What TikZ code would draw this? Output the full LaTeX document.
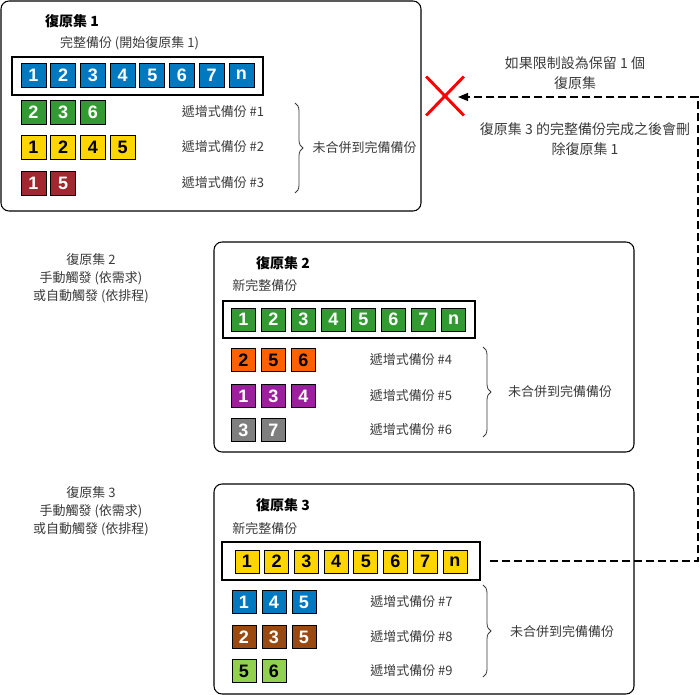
\documentclass[tikz,border=0pt]{standalone}
\usepackage{fontspec}
\setmainfont{Noto Sans CJK TC}
\newfontfamily\numfont{Liberation Sans}
\usetikzlibrary{positioning,calc,arrows.meta,shapes.misc,decorations.pathreplacing}

\definecolor{txtgray}{HTML}{3A3A3A}
\definecolor{blueset}{HTML}{0079C1}
\definecolor{greenset}{HTML}{339A33}
\definecolor{yellowset}{HTML}{FFD500}
\definecolor{redset}{HTML}{A1282E}
\definecolor{orangeset}{HTML}{FF6000}
\definecolor{purpleset}{HTML}{9E1F9E}
\definecolor{grayset}{HTML}{7F7F7F}
\definecolor{brownset}{HTML}{9A4A10}
\definecolor{limeset}{HTML}{92D050}

\tikzset{
	setbox/.style = {draw, rounded corners = 6pt, line width = 0.8pt, minimum width = 315pt, minimum height = 157.5pt},
	fullframe/.style = {draw, line width = 1pt, inner sep = 0pt},
	blk/.style = {draw, line width = 0.6pt, minimum width = 17.5pt, minimum height = 17.25pt, inner sep = 0pt,
		font = \numfont\bfseries\fontsize{13.5pt}{13.5pt}\selectfont},
	wblk/.style = {blk, text = white},
	lbl/.style = {text = txtgray, inner sep = 0pt, align = center, font = \fontsize{9.75pt}{13.5pt}\selectfont},
	ttl/.style = {inner sep = 0pt, font = \bfseries\fontsize{10.5pt}{12pt}\selectfont},
	link/.style = {dashed, dash pattern = on 6pt off 3pt, line width = 0.9pt},
	untie/.style = {decorate, decoration = {brace, amplitude = 6pt}, line width = 0.6pt, draw = txtgray},
}

\begin{document}
\begin{tikzpicture}[x = 0.75pt, y = -0.75pt]
	\useasboundingbox (0,0) rectangle (700,695);
	
	% restore set 1
	\begin{scope}[shift = {(1,1)}]
		\node[setbox] (set1) at (210,105) {};
		\node[ttl] (t1) at (71,20) {復原集 1};
		\node[lbl] (sub1) at (128.5,42) {完整備份 (開始復原集 1)};
		\node[fullframe, minimum width = 188.25pt, minimum height = 28.5pt] (full1) at (136.5,75) {};
		\foreach \n [count = \i from 0] in {1,2,3,4,5,6,7,n}
			\node[wblk, fill = blueset, minimum width = 18.75pt, minimum height = 18pt] (f1\n) at (32.5+29.7*\i,74) {\n};
		\foreach \n [count = \i from 0] in {2,3,6}
			\node[wblk, fill = greenset, minimum width = 18.75pt, minimum height = 18pt] (a1\n) at (32.5+29.7*\i,111) {\n};
		\foreach \n [count = \i from 0] in {1,2,4,5}
			\node[blk, fill = yellowset, minimum width = 18.75pt, minimum height = 18pt] (b1\n) at (32.5+29.7*\i,146) {\n};
		\foreach \n [count = \i from 0] in {1,5}
			\node[wblk, fill = redset, minimum width = 18.75pt, minimum height = 18pt] (c1\n) at (32.5+29.7*\i,182) {\n};
		\node[lbl] (inc1) at (222,111) {遞增式備份 \#1};
		\node[lbl] (inc2) at (222,146) {遞增式備份 \#2};
		\node[lbl] (inc3) at (222,182) {遞增式備份 \#3};
		\draw[untie] (294,102) -- (294,192);
		\node[lbl] (keep1) at (363.5,147) {未合併到完備備份};
	\end{scope}
	
	% restore set 2
	\node[lbl] (why2) at (91,278) {復原集 2\\手動觸發 (依需求)\\或自動觸發 (依排程)};
	\begin{scope}[shift = {(214,242)}]
		\node[setbox] (set2) at (210,105) {};
		\node[ttl] (t2) at (69,21) {復原集 2};
		\node[lbl, anchor = west] (sub2) at (18,44) {新完整備份};
		\node[fullframe, minimum width = 189pt, minimum height = 27.75pt] (full2) at (135,77.5) {};
		\foreach \n [count = \i from 0] in {1,2,3,4,5,6,7,n}
			\node[wblk, fill = greenset] (f2\n) at (29.5+30*\i,77.5) {\n};
		\foreach \n [count = \i from 0] in {2,5,6}
			\node[blk, fill = orangeset] (a2\n) at (29.5+30*\i,118) {\n};
		\foreach \n [count = \i from 0] in {1,3,4}
			\node[wblk, fill = purpleset] (b2\n) at (29.5+30*\i,154) {\n};
		\foreach \n [count = \i from 0] in {3,7}
			\node[wblk, fill = grayset] (c2\n) at (29.5+30*\i,188) {\n};
		\node[lbl] (inc4) at (197,118) {遞增式備份 \#4};
		\node[lbl] (inc5) at (197,154) {遞增式備份 \#5};
		\node[lbl] (inc6) at (197,188) {遞增式備份 \#6};
		\draw[untie] (269,105) -- (269,195);
		\node[lbl] (keep2) at (346,150) {未合併到完備備份};
	\end{scope}
	
	% restore set 3
	\node[lbl] (why3) at (91,511) {復原集 3\\手動觸發 (依需求)\\或自動觸發 (依排程)};
	\begin{scope}[shift = {(214,484)}]
		\node[setbox] (set3) at (210,105) {};
		\node[ttl] (t3) at (69,21) {復原集 3};
		\node[lbl, anchor = west] (sub3) at (18,45) {新完整備份};
		\node[fullframe, minimum width = 193.5pt, minimum height = 28.5pt] (full3) at (137,77) {};
		\foreach \n [count = \i from 0] in {1,2,3,4,5,6,7,n}
			\node[blk, fill = yellowset, minimum width = 18pt] (f3\n) at (33+29.7*\i,77.5) {\n};
		\foreach \n [count = \i from 0] in {1,4,5}
			\node[wblk, fill = blueset, minimum width = 18pt] (a3\n) at (30+30*\i,118) {\n};
		\foreach \n [count = \i from 0] in {2,3,5}
			\node[wblk, fill = brownset, minimum width = 18pt] (b3\n) at (30+30*\i,153) {\n};
		\foreach \n [count = \i from 0] in {5,6}
			\node[blk, fill = limeset, minimum width = 18pt] (c3\n) at (30+30*\i,187) {\n};
		\node[lbl] (inc7) at (197.5,118) {遞增式備份 \#7};
		\node[lbl] (inc8) at (197.5,153) {遞增式備份 \#8};
		\node[lbl] (inc9) at (197.5,187) {遞增式備份 \#9};
		\draw[untie] (269,101) -- (269,193);
		\node[lbl] (keep3) at (348,148) {未合併到完備備份};
	\end{scope}
	
	% retention note
	\node[lbl, font = \fontsize{10.5pt}{15pt}\selectfont] (limit) at (575,73) {如果限制設為保留 1 個\\復原集};
	\node[lbl, font = \fontsize{10.5pt}{15pt}\selectfont] (drop) at (585,139) {復原集 3 的完整備份完成之後會刪\\除復原集 1};
	\node[cross out, draw = red, line width = 2.2pt, minimum width = 26pt, minimum height = 27pt] (del) at (445,96) {};
	\coordinate (turn) at (698,97);
	\coordinate (tip) at (458,97);
	\draw[link, -{Triangle[length = 7.5pt, width = 6pt]}] ([xshift = 6.75pt]full3.east) -| (turn) -- (tip);
	
\end{tikzpicture}
\end{document}
